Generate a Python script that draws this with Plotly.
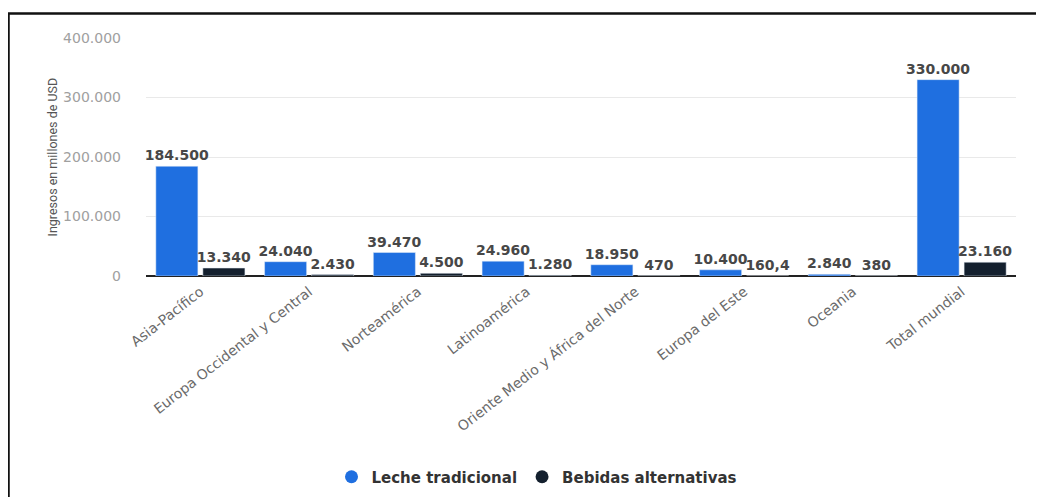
import plotly.graph_objects as go

categories = ["Asia-Pacífico", "Europa Occidental y Central", "Norteamérica", "Latinoamérica",
              "Oriente Medio y África del Norte", "Europa del Este", "Oceania", "Total mundial"]
leche = [184500, 24040, 39470, 24960, 18950, 10400, 2840, 330000]
leche_labels = ["184.500", "24.040", "39.470", "24.960", "18.950", "10.400", "2.840", "330.000"]
bebidas = [13340, 2430, 4500, 1280, 470, 160.4, 380, 23160]
bebidas_labels = ["13.340", "2.430", "4.500", "1.280", "470", "160,4", "380", "23.160"]
y_ticks = [0, 100000, 200000, 300000, 400000]
y_tick_labels = ["0", "100.000", "200.000", "300.000", "400.000"]

BLUE = "#1f6fe0"
DARK = "#14202e"
OFF = 8  # page body margin
W, H = 1044 - OFF, 497 - OFF
# plot area in screen pixels: x 146..1016, y 38..276
ML = 146 - OFF
MR = 1044 - 1016
MT = 38 - OFF
MB = 497 - 276
PW, PH = W - ML - MR, H - MT - MB

def px_x(sx):
    return (sx - OFF - ML) / PW

def px_y(sy):
    return (H - MB - (sy - OFF)) / PH

label_font = dict(family="DejaVu Sans", size=14, color="#474747", weight="bold")

fig = go.Figure()
fig.add_trace(go.Bar(x=categories, y=leche, name="Leche tradicional", marker_color=BLUE,
                     text=leche_labels, textposition="outside", textfont=label_font,
                     constraintext="none", cliponaxis=False, showlegend=False))
fig.add_trace(go.Bar(x=categories, y=bebidas, name="Bebidas alternativas", marker_color=DARK,
                     text=bebidas_labels, textposition="outside", textfont=label_font,
                     constraintext="none", cliponaxis=False, showlegend=False))
fig.add_trace(go.Scatter(x=[None], y=[None], mode="markers", name="Leche tradicional",
                         marker=dict(color=BLUE, size=13, symbol="circle")))
fig.add_trace(go.Scatter(x=[None], y=[None], mode="markers", name="Bebidas alternativas",
                         marker=dict(color=DARK, size=13, symbol="circle")))

fig.update_layout(
    width=W, height=H,
    margin=dict(l=ML, r=MR, t=MT, b=MB, autoexpand=False),
    paper_bgcolor="white", plot_bgcolor="white",
    barmode="group", bargap=0.135, bargroupgap=0.106,
    font=dict(family="DejaVu Sans"),
    legend=dict(orientation="h", x=px_x(537), xanchor="center", y=px_y(477), yanchor="middle",
                font=dict(family="DejaVu Sans", size=15, color="#333333", weight="bold"),
                itemwidth=30, traceorder="normal"),
    xaxis=dict(tickangle=-38, tickfont=dict(family="DejaVu Sans", size=14, color="#6a6a6a"),
               showgrid=False, showline=False, ticks="", ticklabelstandoff=4,
               automargin=False),
    yaxis=dict(range=[0, 400000], tickvals=y_ticks, ticktext=y_tick_labels,
               tickfont=dict(family="DejaVu Sans", size=14, color="#a0a0a0"),
               showgrid=True, gridcolor="#e9e9e9", gridwidth=1,
               zeroline=True, zerolinecolor="#222222", zerolinewidth=1.5,
               showline=False, ticks="", ticklabelstandoff=24, automargin=False),
    annotations=[dict(text="Ingresos en millones de USD", x=px_x(42), y=px_y(157),
                      xref="paper", yref="paper", showarrow=False, textangle=-90,
                      font=dict(family="Roboto", size=12.5, color="#555555"))],
    shapes=[dict(type="path", xref="paper", yref="paper",
                 path=f"M {px_x(8.5)},{px_y(505)} L {px_x(8.5)},{px_y(13.5)} L {px_x(1050)},{px_y(13.5)}",
                 line=dict(color="#111111", width=2.5))],
)

fig.write_html("out.html")
